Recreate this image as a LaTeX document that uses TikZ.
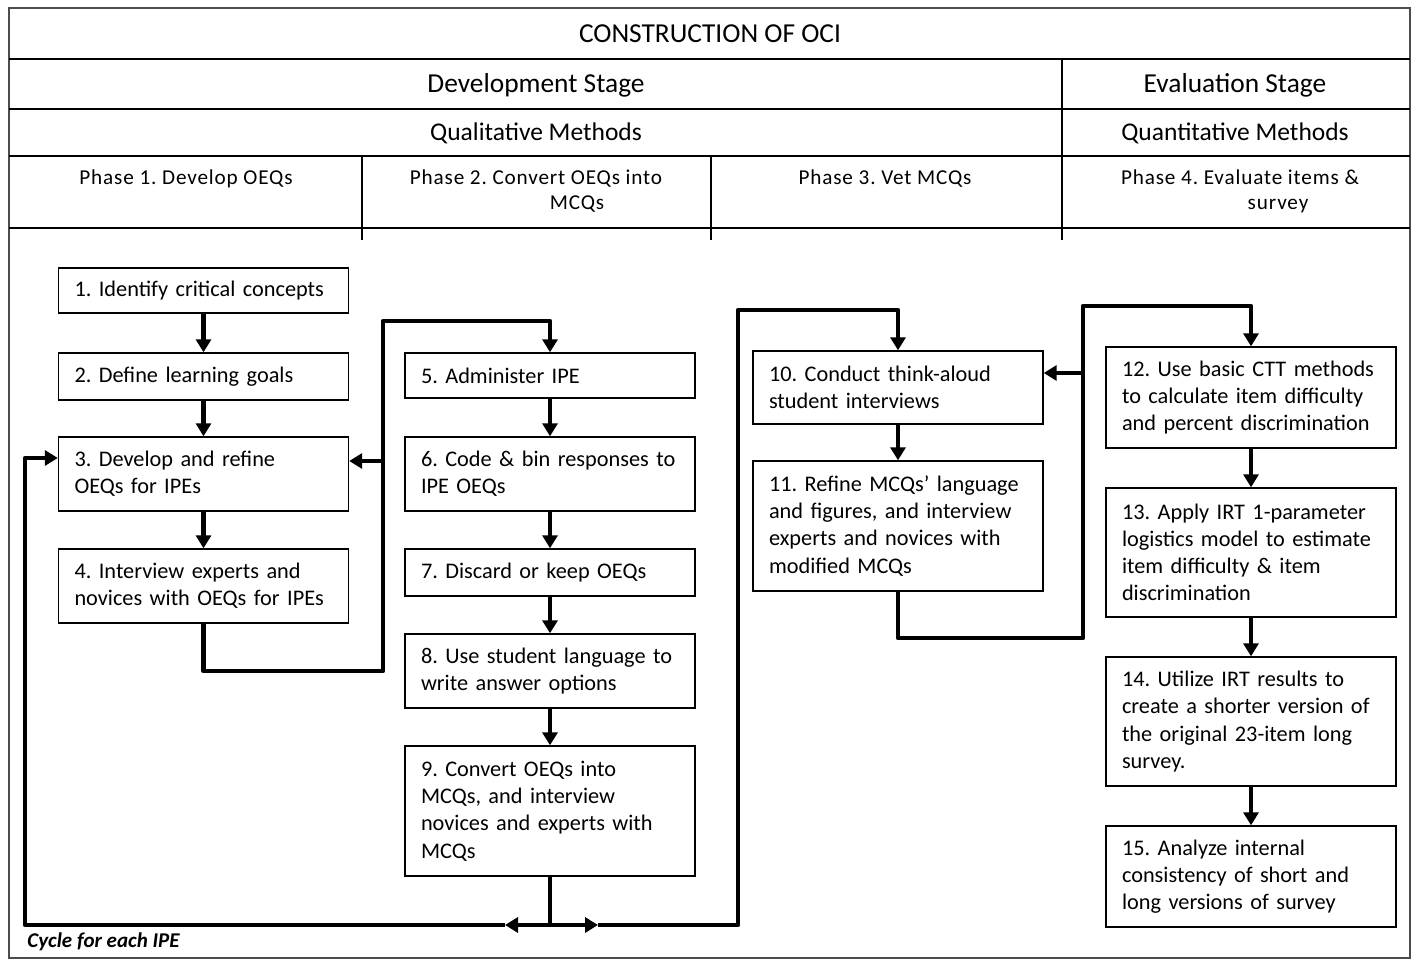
\documentclass[tikz,border=0pt]{standalone}
\usepackage{fontspec}
\setmainfont{Carlito}
\newfontfamily\phasefont[LetterSpace=4]{Carlito}
\usetikzlibrary{arrows.meta}
\frenchspacing
\hyphenpenalty=10000

\begin{document}
\begin{tikzpicture}[x=.5pt,y=-.5pt,>={Triangle[length=6.5pt,width=7.5pt]},
 stepbox/.style={draw,line width=.7pt,text width=129pt,inner xsep=8pt,align=left,
   font=\fontsize{11.15}{13.6}\selectfont},
 hdr/.style={font=\fontsize{13.7}{16}\selectfont},
 meth/.style={font=\fontsize{12.75}{15}\selectfont},
 ph/.style={font=\phasefont\fontsize{10.6}{12.5}\selectfont,align=center},
 rule/.style={line width=1pt},
 flow/.style={line width=2.2pt,line join=round,->}]
 \useasboundingbox (0,0) rectangle (1416,962);
 % table head
 \draw[line width=1pt,black!70] (9,8) rectangle (1410,958);
 \draw[rule] (9,59)--(1410,59) (9,109)--(1410,109) (9,156)--(1410,156) (9,228)--(1410,228);
 \draw[rule] (1062,59)--(1062,240) (362,156)--(362,240) (711,156)--(711,240);
 \node[hdr] (title) at (710,34) {CONSTRUCTION OF OCI};
 \node[hdr] (dev) at (536,85) {Development Stage};
 \node[hdr] (eval) at (1235,85) {Evaluation Stage};
 \node[meth] (qual) at (536,133) {Qualitative Methods};
 \node[meth] (quant) at (1235,133) {Quantitative Methods};
 \node[ph] (ph1) at (186,179) {Phase 1. Develop OEQs};
 \node[ph] (ph2) at (536,191.5) {Phase 2. Convert OEQs into\\\hspace*{41pt}MCQs};
 \node[ph] (ph3) at (885,179) {Phase 3. Vet MCQs};
 \node[ph] (ph4) at (1240,191.5) {Phase 4. Evaluate items \&\\\hspace*{38pt}survey};
 % steps
 \node[stepbox,minimum height=22.5pt] (s1) at (203.5,290.5) {1. Identify critical concepts};
 \node[stepbox,minimum height=23.5pt] (s2) at (203.5,376.5) {2. Define learning goals};
 \node[stepbox,minimum height=37pt] (s3) at (203.5,474) {3. Develop and refine\\OEQs for IPEs};
 \node[stepbox,minimum height=37pt] (s4) at (203.5,586) {4. Interview experts and\\novices with OEQs for IPEs};
 \node[stepbox,minimum height=22.5pt] (s5) at (550,375.5) {5. Administer IPE};
 \node[stepbox,minimum height=37pt] (s6) at (550,474) {6. Code \& bin responses to\\IPE OEQs};
 \node[stepbox,minimum height=23.5pt] (s7) at (550,572.5) {7. Discard or keep OEQs};
 \node[stepbox,minimum height=37pt] (s8) at (550,671) {8. Use student language to\\write answer options};
 \node[stepbox,minimum height=65pt] (s9) at (550,811) {9. Convert OEQs into\\MCQs, and interview\\novices and experts with\\MCQs};
 \node[stepbox,minimum height=36.5pt] (s10) at (898,387.5) {10. Conduct think-aloud\\student interviews};
 \node[stepbox,minimum height=65pt] (s11) at (898,526) {11. Refine MCQs’ language\\and figures, and interview\\experts and novices with\\modified MCQs};
 \node[stepbox,minimum height=50.5pt] (s12) at (1251,397.5) {12. Use basic CTT methods\\to calculate item difficulty\\and percent discrimination};
 \node[stepbox,minimum height=64.5pt] (s13) at (1251,552.5) {13. Apply IRT 1-parameter\\logistics model to estimate\\item difficulty \& item\\discrimination};
 \node[stepbox,minimum height=64.5pt] (s14) at (1251,721.5) {14. Utilize IRT results to\\create a shorter version of\\the original 23-item long\\survey.};
 \node[stepbox,minimum height=50.5pt] (s15) at (1251,876.5) {15. Analyze internal\\consistency of short and\\long versions of survey};
 \node[anchor=west,inner sep=0pt,font=\fontsize{10.5}{12}\selectfont\bfseries\itshape] (cyc) at (27,942) {Cycle for each IPE};
 % bend points
 \coordinate (a1) at (383,671);
 \coordinate (a2) at (383,321);
 \coordinate (a3) at (383,461);
 \coordinate (b0) at (550,925);
 \coordinate (bl) at (505,925);
 \coordinate (br) at (598,925);
 \coordinate (b1) at (25,925);
 \coordinate (b2) at (25,458);
 \coordinate (c1) at (738,925);
 \coordinate (c2) at (738,310);
 \coordinate (d1) at (1083,638);
 \coordinate (d2) at (1083,306);
 \coordinate (d3) at (1083,373);
 % arrows
 \draw[flow] (s1)--(s2);
 \draw[flow] (s2)--(s3);
 \draw[flow] (s3)--(s4);
 \draw[flow] (s4.south)|-(a1)--(a2)-|(s5.north);
 \draw[flow] (a3)--(a3-|s3.east);
 \draw[flow] (s5)--(s6);
 \draw[flow] (s6)--(s7);
 \draw[flow] (s7)--(s8);
 \draw[flow] (s8)--(s9);
 \draw[line width=2.2pt] (s9.south)--(b0);
 \draw[flow,<->] (bl)--(br);
 \draw[flow] (bl)--(b1)--(b2)--(b2-|s3.west);
 \draw[flow] (br)--(c1)--(c2)-|(s10.north);
 \draw[flow] (s10)--(s11);
 \draw[flow] (s11.south)|-(d1)--(d2)-|(s12.north);
 \draw[flow] (d3)--(d3-|s10.east);
 \draw[flow] (s12)--(s13);
 \draw[flow] (s13)--(s14);
 \draw[flow] (s14)--(s15);
\end{tikzpicture}
\end{document}
